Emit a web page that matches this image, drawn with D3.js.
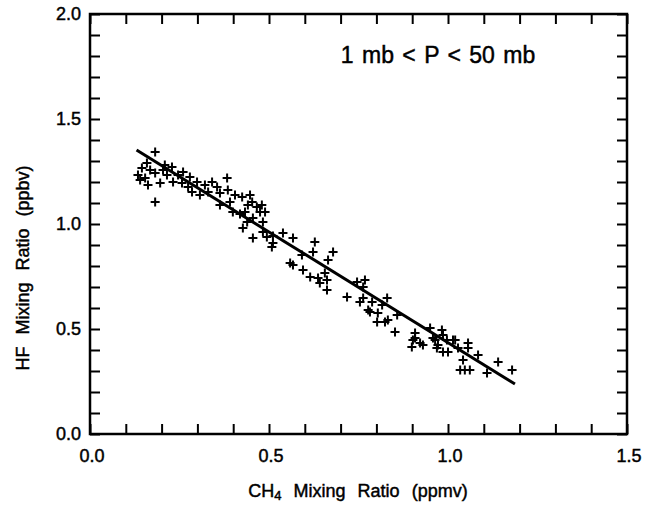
<!DOCTYPE html>
<html><head><meta charset="utf-8">
<script src="https://cdn.jsdelivr.net/npm/d3@7"></script>
<style>body{margin:0;background:#fff}svg{display:block}text{font-family:"Liberation Sans",Arial,sans-serif;fill:#000;stroke:#000;stroke-width:0.45}</style>
</head><body><svg id="c" width="653" height="506"></svg>
<script>
const xTicks = [0.0, 0.5, 1.0, 1.5];
const yTicks = [0.0, 0.5, 1.0, 1.5, 2.0];
const ch4 = [0.182,0.159,0.145,0.140,0.162,0.182,0.196,0.182,0.204,0.229,0.215,0.232,0.260,0.257,0.279,0.274,0.299,0.285,0.307,0.330,0.355,0.363,0.383,0.385,0.363,0.391,0.425,0.433,0.453,0.466,0.475,0.489,0.439,0.455,0.483,0.539,0.567,0.455,0.494,0.447,0.480,0.399,0.419,0.427,0.483,0.511,0.511,0.508,0.628,0.623,0.592,0.679,0.665,0.559,0.567,0.595,0.615,0.637,0.642,0.656,0.662,0.662,0.746,0.768,0.763,0.718,0.763,0.830,0.754,0.788,0.816,0.777,0.782,0.804,0.802,0.824,0.832,0.858,0.852,0.908,0.902,0.922,0.950,0.983,0.986,0.997,1.014,0.899,0.930,0.964,0.969,0.908,0.958,0.972,0.986,1.000,1.020,1.028,1.056,1.056,1.042,1.034,1.047,1.061,1.084,1.109,1.140,1.179,0.134,0.154,0.168,0.209,0.246,0.321,0.341,0.405,0.441];
const hf = [1.343,1.290,1.267,1.210,1.186,1.243,1.195,1.105,1.257,1.271,1.233,1.200,1.248,1.195,1.224,1.176,1.200,1.152,1.138,1.152,1.176,1.148,1.219,1.162,1.090,1.105,1.129,1.057,1.105,1.081,1.057,1.057,1.010,1.029,1.010,0.957,0.933,0.933,0.938,1.138,1.090,1.057,1.048,0.981,0.962,0.943,0.910,0.890,0.914,0.867,0.852,0.867,0.829,0.814,0.805,0.781,0.748,0.743,0.719,0.767,0.733,0.686,0.724,0.733,0.700,0.652,0.648,0.648,0.629,0.629,0.614,0.590,0.581,0.576,0.533,0.533,0.543,0.567,0.486,0.481,0.448,0.433,0.505,0.495,0.471,0.448,0.448,0.414,0.424,0.448,0.410,0.457,0.457,0.424,0.390,0.390,0.448,0.410,0.433,0.410,0.352,0.305,0.305,0.305,0.376,0.290,0.343,0.305,1.233,1.219,1.257,1.281,1.233,1.186,1.200,1.138,1.090];
const fitX = [0.13, 1.187];
const fitY = [1.352, 0.238];

const svg = d3.select("#c");
const L=90, R=627, T=14, B=434;
const x = d3.scaleLinear().domain([0,1.5]).range([L,R]);
const y = d3.scaleLinear().domain([0,2.0]).range([B,T]);
const minor = d3.range(0, 16).map(i => i/10);
const minorY = d3.range(0, 21).map(i => i/10);

function ax(gen, tr) {
  const g = svg.append("g").attr("transform", tr).call(gen);
  g.select(".domain").remove();
  g.selectAll(".tick line").attr("stroke","#000").attr("stroke-width",2);
  return g;
}
ax(d3.axisBottom(x).tickValues(minor).tickSize(-10).tickFormat(""), `translate(0,${B})`);
ax(d3.axisTop(x).tickValues(minor).tickSize(-10).tickFormat(""), `translate(0,${T})`);
ax(d3.axisLeft(y).tickValues(minorY).tickSize(-10).tickFormat(""), `translate(${L},0)`);
ax(d3.axisRight(y).tickValues(minorY).tickSize(-10).tickFormat(""), `translate(${R},0)`);

svg.append("rect").attr("x",L).attr("y",T).attr("width",R-L).attr("height",B-T)
  .attr("fill","none").attr("stroke","#000").attr("stroke-width",2.5);

svg.append("g").selectAll("text").data(xTicks).join("text")
  .attr("x", d=>x(d)+2).attr("y", B+28).attr("text-anchor","middle")
  .attr("font-size",18).text(d=>d.toFixed(1));
svg.append("g").selectAll("text").data(yTicks).join("text")
  .attr("x", L-9).attr("y", d=>y(d)+6).attr("text-anchor","end")
  .attr("font-size",18).text(d=>d.toFixed(1));

// fit line
svg.append("line").attr("x1",x(fitX[0])).attr("y1",y(fitY[0])).attr("x2",x(fitX[1])).attr("y2",y(fitY[1]))
  .attr("stroke","#000").attr("stroke-width",3);

// points
const pts = ch4.map((v,i)=>[v,hf[i]]);
svg.append("g").selectAll("path").data(pts).join("path")
  .attr("d", d=>`M${x(d[0])-4.5},${y(d[1])}h9M${x(d[0])},${y(d[1])-4.5}v9`)
  .attr("stroke","#000").attr("stroke-width",2).attr("fill","none");

svg.append("text").attr("x",438).attr("y",63).attr("text-anchor","middle").attr("font-size",23)
  .attr("word-spacing",2).text("1 mb < P < 50 mb");

const xt = svg.append("text").attr("x",358).attr("y",497).attr("text-anchor","middle").attr("font-size",18).attr("word-spacing",7);
xt.append("tspan").text("CH");
xt.append("tspan").attr("font-size",13).attr("dy",3).text("4");
xt.append("tspan").attr("dy",-3).text(" Mixing Ratio (ppmv)");

svg.append("text").attr("transform",`translate(29,${(T+B)/2 + 44}) rotate(-90)`).attr("text-anchor","middle")
  .attr("font-size",18).attr("word-spacing",7).text("HF Mixing Ratio (ppbv)");
</script></body></html>
